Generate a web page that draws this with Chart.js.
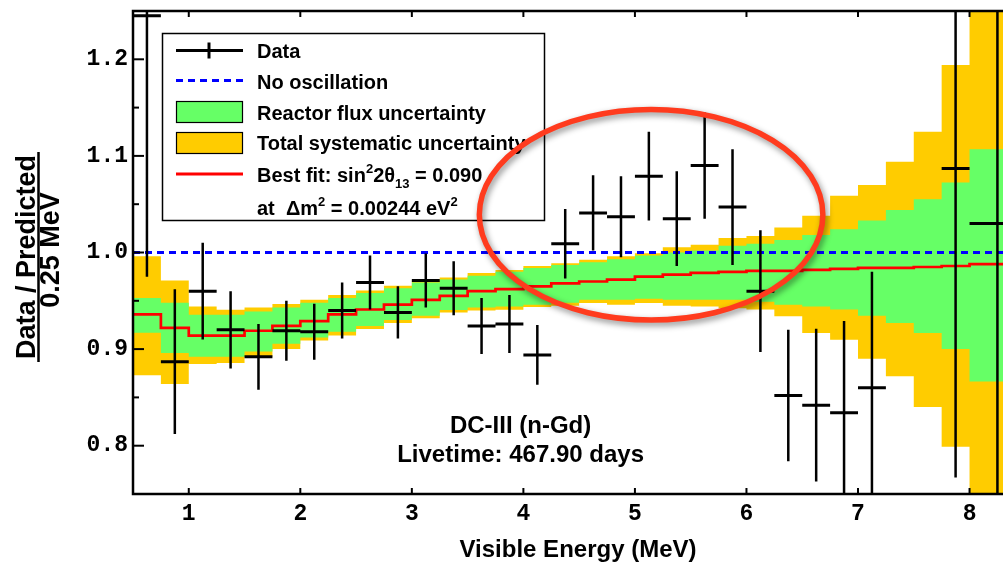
<!DOCTYPE html>
<html>
<head>
<meta charset="utf-8">
<script src="https://cdn.jsdelivr.net/npm/chart.js@4.4.1/dist/chart.umd.min.js"></script>
<style>
  html, body { margin: 0; padding: 0; background: #fff; }
  #wrap { width: 1003px; height: 566px; }
</style>
</head>
<body>
<div id="wrap"><canvas id="grafico" width="1003" height="566"></canvas></div>
<script>
// bins of 0.25 MeV, last one 8.0 - 8.5
const binEdges = [0.5, 0.75, 1.0, 1.25, 1.5, 1.75, 2.0, 2.25, 2.5, 2.75, 3.0, 3.25, 3.5, 3.75, 4.0, 4.25,
                  4.5, 4.75, 5.0, 5.25, 5.5, 5.75, 6.0, 6.25, 6.5, 6.75, 7.0, 7.25, 7.5, 7.75, 8.0, 8.5];

const dataRatio = [1.245, 0.887, 0.960, 0.920, 0.892, 0.919, 0.918, 0.940, 0.969, 0.938, 0.971, 0.963, 0.924, 0.926, 0.894, 1.009,
                   1.041, 1.037, 1.079, 1.035, 1.090, 1.047, 0.960, 0.852, 0.842, 0.834, 0.860, null, null, 1.087, 1.030];
const dataError = [0.270, 0.075, 0.050, 0.040, 0.034, 0.031, 0.029, 0.029, 0.028, 0.027, 0.028, 0.028, 0.029, 0.030, 0.031, 0.036,
                   0.039, 0.042, 0.046, 0.049, 0.055, 0.060, 0.063, 0.068, 0.079, 0.095, 0.120, null, null, 0.320, 0.400];

const bestFit = [0.936, 0.922, 0.914, 0.914, 0.919, 0.924, 0.929, 0.936, 0.941, 0.946, 0.951, 0.955, 0.960, 0.962, 0.965, 0.968,
                 0.970, 0.972, 0.975, 0.977, 0.979, 0.980, 0.981, 0.981, 0.982, 0.983, 0.984, 0.984, 0.985, 0.986, 0.988];

const reactorHigh = [0.953, 0.948, 0.9355, 0.9355, 0.939, 0.943, 0.948, 0.953, 0.958, 0.963, 0.969, 0.972, 0.976, 0.980, 0.984, 0.987,
                     0.990, 0.993, 0.997, 1.000, 1.002, 1.007, 1.009, 1.013, 1.018, 1.024, 1.033, 1.044, 1.055, 1.0725, 1.107];
const reactorLow = [0.917, 0.896, 0.892, 0.892, 0.8975, 0.9055, 0.912, 0.918, 0.924, 0.930, 0.9345, 0.9405, 0.943, 0.944, 0.946, 0.948,
                    0.951, 0.951, 0.952, 0.951, 0.951, 0.951, 0.949, 0.946, 0.944, 0.941, 0.9345, 0.927, 0.9166, 0.900, 0.8665];

const totalHigh = [0.996, 0.971, 0.944, 0.9407, 0.943, 0.9466, 0.951, 0.956, 0.9607, 0.9655, 0.971, 0.974, 0.9787, 0.982, 0.986, 0.989,
                   0.9924, 0.996, 0.9993, 1.0055, 1.008, 1.015, 1.017, 1.026, 1.038, 1.0587, 1.070, 1.094, 1.125, 1.194, 1.30];
const totalLow = [0.873, 0.864, 0.8845, 0.8855, 0.892, 0.900, 0.909, 0.914, 0.9207, 0.927, 0.932, 0.938, 0.940, 0.9407, 0.9435, 0.945,
                  0.9476, 0.946, 0.9476, 0.945, 0.944, 0.9424, 0.941, 0.934, 0.9166, 0.9096, 0.890, 0.872, 0.840, 0.799, 0.70];

const noOscillation = 1.0;

const xTicks = [1, 2, 3, 4, 5, 6, 7, 8];
const yTicks = [0.8, 0.9, 1.0, 1.1, 1.2];
const yMinorTicks = [0.75, 0.85, 0.95, 1.05, 1.15];

// highlighted region (data units)
const ellipseCenter = [5.145, 1.039];
const ellipseRadius = [1.54, 0.109];

const SANS = '"Liberation Sans", Arial, sans-serif';
const MONO = '"Liberation Mono", "Courier New", monospace';

function degraus(valores) {
    const pts = [];
    valores.forEach((v, i) => {
        pts.push({ x: binEdges[i], y: v });
        pts.push({ x: binEdges[i + 1], y: v });
    });
    return pts;
}

function barrasHorizontais() {
    const pts = [];
    dataRatio.forEach((v, i) => {
        if (v === null) return;
        pts.push({ x: binEdges[i], y: v });
        pts.push({ x: binEdges[i + 1], y: v });
        pts.push({ x: binEdges[i + 1], y: null });
    });
    return pts;
}

function barrasVerticais() {
    const pts = [];
    dataRatio.forEach((v, i) => {
        if (v === null) return;
        const c = (binEdges[i] + binEdges[i + 1]) / 2;
        pts.push({ x: c, y: v - dataError[i] });
        pts.push({ x: c, y: v + dataError[i] });
        pts.push({ x: c, y: null });
    });
    return pts;
}

function linha(ctx, x1, y1, x2, y2) {
    ctx.beginPath();
    ctx.moveTo(x1, y1);
    ctx.lineTo(x2, y2);
    ctx.stroke();
}

function textoPartes(ctx, partes, x, y) {
    partes.forEach(p => {
        ctx.font = 'bold ' + (p.tam || 20) + 'px ' + SANS;
        ctx.fillText(p.t, x, y + (p.dy || 0));
        x += ctx.measureText(p.t).width;
    });
}

const moldura = {
    id: 'moldura',
    afterDatasetsDraw(chart) {
        const { ctx, chartArea: a, scales: { x, y } } = chart;
        ctx.save();
        ctx.strokeStyle = '#000';
        ctx.lineWidth = 2.5;
        ctx.beginPath();
        ctx.moveTo(a.right + 2, a.top);
        ctx.lineTo(a.left, a.top);
        ctx.lineTo(a.left, a.bottom);
        ctx.lineTo(a.right + 2, a.bottom);
        ctx.stroke();
        ctx.lineWidth = 2;
        xTicks.forEach(v => {
            const px = x.getPixelForValue(v);
            linha(ctx, px, a.bottom, px, a.bottom - 6);
            linha(ctx, px, a.top, px, a.top + 6);
        });
        yTicks.forEach(v => {
            const py = y.getPixelForValue(v);
            linha(ctx, a.left, py, a.left + 11, py);
        });
        yMinorTicks.forEach(v => {
            const py = y.getPixelForValue(v);
            linha(ctx, a.left, py, a.left + 6, py);
        });
        ctx.restore();
    }
};

const anotacoes = {
    id: 'anotacoes',
    afterDraw(chart) {
        const { ctx, chartArea: a, scales: { x, y } } = chart;
        ctx.save();

        // legend
        ctx.fillStyle = '#fff';
        ctx.fillRect(162.5, 33.5, 382, 187);
        ctx.strokeStyle = '#000';
        ctx.lineWidth = 1.5;
        ctx.strokeRect(162.5, 33.5, 382, 187);

        ctx.lineWidth = 3;
        ctx.strokeStyle = '#000';
        linha(ctx, 176, 50.5, 243, 50.5);
        linha(ctx, 209, 42.5, 209, 58.5);

        ctx.strokeStyle = '#0000ff';
        ctx.setLineDash([7, 5]);
        linha(ctx, 176, 80.5, 243, 80.5);
        ctx.setLineDash([]);

        ctx.lineWidth = 1.2;
        ctx.strokeStyle = '#000';
        ctx.fillStyle = '#66ff66';
        ctx.fillRect(176.5, 101.5, 66, 21);
        ctx.strokeRect(176.5, 101.5, 66, 21);
        ctx.fillStyle = '#ffcc00';
        ctx.fillRect(176.5, 132.5, 66, 21);
        ctx.strokeRect(176.5, 132.5, 66, 21);

        ctx.lineWidth = 3;
        ctx.strokeStyle = '#ff0000';
        linha(ctx, 176, 174, 243, 174);

        ctx.fillStyle = '#000';
        ctx.textAlign = 'left';
        ctx.textBaseline = 'alphabetic';
        textoPartes(ctx, [{ t: 'Data' }], 257, 58);
        textoPartes(ctx, [{ t: 'No oscillation' }], 257, 88.5);
        textoPartes(ctx, [{ t: 'Reactor flux uncertainty' }], 257, 119.5);
        textoPartes(ctx, [{ t: 'Total systematic uncertainty' }], 257, 150);
        textoPartes(ctx, [{ t: 'Best fit: sin' }, { t: '2', tam: 13, dy: -9 }, { t: '2\u03B8' },
                          { t: '13', tam: 13, dy: 6 }, { t: ' = 0.090' }], 257, 181.5);
        textoPartes(ctx, [{ t: 'at  \u0394m' }, { t: '2', tam: 13, dy: -9 }, { t: ' = 0.00244 eV' },
                          { t: '2', tam: 13, dy: -9 }], 257, 215);

        // run info
        ctx.textAlign = 'center';
        ctx.font = 'bold 24px ' + SANS;
        ctx.fillText('DC-III (n-Gd)', x.getPixelForValue(3.975), y.getPixelForValue(0.8134));
        ctx.fillText('Livetime: 467.90 days', x.getPixelForValue(3.975), y.getPixelForValue(0.7836));

        // x title
        ctx.fillText('Visible Energy (MeV)', 578, 557);

        // y title as fraction
        ctx.save();
        ctx.translate(0, 257);
        ctx.rotate(-Math.PI / 2);
        ctx.font = 'bold 27px ' + SANS;
        ctx.fillText('Data / Predicted', 0, 35);
        ctx.fillText('0.25 MeV', 7, 59);
        ctx.lineWidth = 2.5;
        ctx.strokeStyle = '#000';
        linha(ctx, -105, 38.5, 105, 38.5);
        ctx.restore();

        // red ellipse
        const cx = x.getPixelForValue(ellipseCenter[0]);
        const cy = y.getPixelForValue(ellipseCenter[1]);
        const rx = x.getPixelForValue(ellipseCenter[0] + ellipseRadius[0]) - cx;
        const ry = cy - y.getPixelForValue(ellipseCenter[1] + ellipseRadius[1]);
        ctx.shadowColor = 'rgba(0,0,0,0.45)';
        ctx.shadowBlur = 6;
        ctx.shadowOffsetX = 2;
        ctx.shadowOffsetY = 3;
        ctx.strokeStyle = '#ff3b1e';
        ctx.lineWidth = 5.5;
        ctx.beginPath();
        ctx.ellipse(cx, cy, rx, ry, 0, 0, Math.PI * 2);
        ctx.stroke();

        ctx.restore();
    }
};

const ctx = document.getElementById('grafico');
const semBorda = 'rgba(0,0,0,0)';

new Chart(ctx, {
    type: 'line',
    data: {
        datasets: [
            { label: 'Data', data: barrasHorizontais(), borderColor: '#000', borderWidth: 3, order: 0 },
            { label: 'Data err', data: barrasVerticais(), borderColor: '#000', borderWidth: 2.5, order: 0 },
            { label: 'Best fit', data: degraus(bestFit), borderColor: '#ff0000', borderWidth: 2.7, order: 1 },
            { label: 'No oscillation', data: [{ x: 0.5, y: noOscillation }, { x: 8.3, y: noOscillation }],
              borderColor: '#0000ff', borderWidth: 3, borderDash: [7, 5], order: 2 },
            { label: 'Reactor flux uncertainty', data: degraus(reactorHigh), borderColor: semBorda, borderWidth: 0,
              backgroundColor: '#66ff66', fill: 5, order: 3 },
            { label: 'reactor low', data: degraus(reactorLow), borderColor: semBorda, borderWidth: 0, fill: false, order: 3 },
            { label: 'Total systematic uncertainty', data: degraus(totalHigh), borderColor: semBorda, borderWidth: 0,
              backgroundColor: '#ffcc00', fill: 7, order: 4 },
            { label: 'total low', data: degraus(totalLow), borderColor: semBorda, borderWidth: 0, fill: false, order: 4 }
        ]
    },
    options: {
        responsive: false,
        animation: false,
        events: [],
        spanGaps: false,
        clip: 0,
        elements: { point: { radius: 0 }, line: { tension: 0, borderCapStyle: 'butt' } },
        layout: { autoPadding: false, padding: { top: 11, right: 0, left: 0, bottom: 0 } },
        plugins: { legend: { display: false }, tooltip: { enabled: false } },
        scales: {
            x: {
                type: 'linear',
                min: 0.5,
                max: 8.3,
                grid: { display: false, drawTicks: false },
                border: { display: false },
                afterBuildTicks: s => { s.ticks = xTicks.map(v => ({ value: v })); },
                afterFit: s => { s.height = 72; s.paddingLeft = 0; s.paddingRight = 0; },
                ticks: {
                    autoSkip: false, maxRotation: 0, padding: 6, color: '#000',
                    font: { family: MONO, weight: 'bold', size: 23 },
                    callback: v => String(v)
                }
            },
            y: {
                type: 'linear',
                min: 0.75,
                max: 1.25,
                grid: { display: false, drawTicks: false },
                border: { display: false },
                afterBuildTicks: s => { s.ticks = yTicks.map(v => ({ value: v })); },
                afterFit: s => { s.width = 133; s.paddingTop = 0; s.paddingBottom = 0; },
                ticks: {
                    padding: 5, color: '#000',
                    font: { family: MONO, weight: 'bold', size: 23 },
                    callback: v => v.toFixed(1)
                }
            }
        }
    },
    plugins: [moldura, anotacoes]
});
</script>
</body>
</html>
